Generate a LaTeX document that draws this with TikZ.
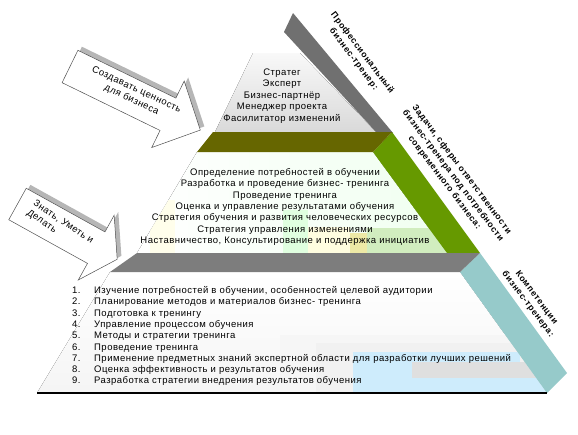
\documentclass[tikz,border=0pt]{standalone}
\usepackage{fontspec}
\setmainfont{Liberation Sans}[LetterSpace=5]
\newfontfamily\labelfont{Liberation Sans}[LetterSpace=8]
\usetikzlibrary{calc}
\definecolor{pyrgray}{RGB}{112,112,112}
\definecolor{pyrolive}{RGB}{102,102,0}
\definecolor{pyrgreen}{RGB}{102,153,0}
\definecolor{pyrslab}{RGB}{125,125,125}
\definecolor{pyrteal}{RGB}{150,202,202}
\definecolor{pyrsky}{RGB}{206,236,252}
\definecolor{pyrshadow}{RGB}{182,182,182}
\definecolor{pyrline}{RGB}{80,80,80}
\tikzset{
  tiertext/.style={align=center,inner sep=0pt},
  listtext/.style={anchor=base west,inner sep=0pt},
  sidelabel/.style={align=center,font=\labelfont\bfseries\fontsize{8.7}{10.8}\selectfont,rotate=-53,inner sep=0pt},
  arrowlabel/.style={align=left,inner sep=0pt},
  blockarrow/.style={fill=white,draw=pyrline,line width=0.5pt,line join=miter},
  arrowshadow/.style={fill=pyrshadow},
}
% block arrow along +x, tail at origin: length, head length
\newcommand{\arrowbody}[2]{(0,-18) -- ({#1-#2},-18) -- ({#1-#2},-37) -- (#1,0)
  -- ({#1-#2},37) -- ({#1-#2},18) -- (0,18) -- cycle}

\begin{document}
\begin{tikzpicture}[x=1pt,y=-1pt,font=\fontsize{9.5}{11.4}\selectfont]
\useasboundingbox (0,0) rectangle (578,434);

% ============ tier faces ============
\fill[top color=gray!5,bottom color=gray!30] (253,53) -- (300,53) -- (377,133) -- (215,132) -- cycle;
\begin{scope}
  \clip (197,152) -- (373,152) -- (447,253) -- (137,253) -- cycle;
  \fill[left color=white,right color=green!6] (137,152) rectangle (447,253);
  \fill[yellow!8] (150,200) rectangle (175,253);
  \fill[green!12] (283,210) rectangle (308,253);
  \fill[yellow!12] (308,227) rectangle (350,253);
  \fill[yellow!45!olive!30] (350,233) rectangle (367,253);
  \fill[green!45!olive!25] (367,228) rectangle (447,253);
\end{scope}
\begin{scope}
  \clip (110,272) -- (460,272) -- (547,393) -- (37,393) -- cycle;
  \fill[top color=white,bottom color=gray!8] (37,272) rectangle (547,393);
  \fill[gray!7] (280,335) rectangle (547,393);
  \fill[gray!11] (316,343) rectangle (547,393);
  \fill[pyrsky] (353,352) rectangle (520,393);
  \fill[gray!25] (412,362) rectangle (547,378);
  \fill[pyrsky] (473,378) rectangle (547,393);
\end{scope}

% ============ side bands and slabs ============
\fill[pyrgray] (284,32) -- (293,13) -- (393,133) -- (377,133) -- cycle;
\fill[pyrgreen] (392,132) -- (480,253) -- (447,253) -- (373,152) -- cycle;
\fill[pyrteal] (480,253) -- (567,373) -- (547,393) -- (460,272) -- cycle;
\fill[pyrolive] (213,132) -- (392,132) -- (373,152) -- (197,152) -- cycle;
\fill[pyrslab] (137,253) -- (480,253) -- (460,272) -- (110,272) -- cycle;
\draw[line width=1.2pt] (37,393) -- (547,393);

% ============ tier texts ============
\node[tiertext] (roles) at (282,96)
  {Стратег\\Эксперт\\Бизнес-партнёр\\Менеджер проекта\\Фасилитатор изменений};
\node[tiertext] (tasks) at (285,207)
  {Определение потребностей в обучении\\Разработка и проведение бизнес- тренинга\\
   Проведение тренинга\\Оценка и управление результатами обучения\\
   Стратегия обучения и развития человеческих ресурсов\\Стратегия управления изменениями\\
   Наставничество, Консультирование и поддержка инициатив};
\foreach \i/\txt in {%
  1/{Изучение потребностей в обучении, особенностей целевой аудитории},
  2/{Планирование методов и материалов бизнес- тренинга},
  3/{Подготовка к тренингу},
  4/{Управление процессом обучения},
  5/{Методы и стратегии тренинга},
  6/{Проведение тренинга},
  7/{Применение предметных знаний экспертной области для разработки лучших решений},
  8/{Оценка эффективность и результатов обучения},
  9/{Разработка стратегии внедрения результатов обучения}} {
  \node[listtext] (num\i) at (72,{293.5+11.3*(\i-1)}) {\i.};
  \node[listtext] (item\i) at (94,{293.5+11.3*(\i-1)}) {\txt};
}

% ============ side labels ============
\node[sidelabel] (prolab) at (358,56) {Профессиональный\\бизнес-тренер:};
\node[sidelabel] (tasklab) at (453,176)
  {Задачи, сферы ответственности\\бизнес-тренера под потребности\\современного бизнеса:};
\node[sidelabel] (complab) at (532,301) {Компетенции\\бизнес-тренера:};

% ============ block arrows ============
\begin{scope}[shift={(70,66.5)},rotate=-26]
  \fill[arrowshadow,shift={(2,-5)}] \arrowbody{145}{36};
  \draw[blockarrow] \arrowbody{145}{36};
\end{scope}
\node[arrowlabel,align=center,rotate=-25] (valuetxt) at (134,95)
  {Создавать ценность\\для бизнеса};

\begin{scope}[shift={(17.5,204)},rotate=-29]
  \fill[arrowshadow,shift={(2,-5)}] \arrowbody{114}{24};
  \draw[blockarrow] \arrowbody{114}{24};
\end{scope}
\node[arrowlabel,rotate=-34] (skilltxt) at (60,227) {Знать, Уметь и\\Делать};
\end{tikzpicture}
\end{document}
